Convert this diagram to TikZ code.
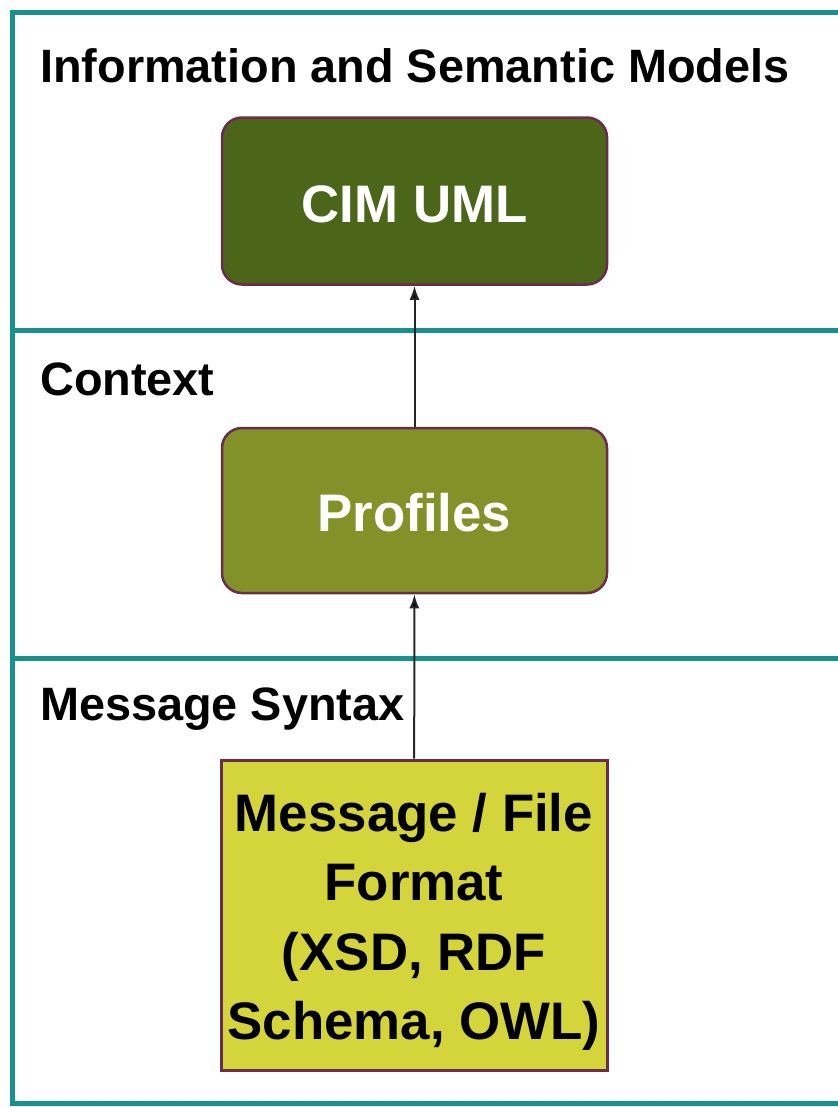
\documentclass[tikz,border=0pt]{standalone}
\usepackage{fontspec}
\setmainfont{Liberation Sans}
\usepackage{tikz}
\usetikzlibrary{positioning, arrows.meta}

\definecolor{frameteal}{HTML}{17908E}
\definecolor{cimgreen}{HTML}{4B6619}
\definecolor{profgreen}{HTML}{839228}
\definecolor{msgyellow}{HTML}{D3D53A}
\definecolor{boxedge}{HTML}{6A2C4C}

\begin{document}
\begin{tikzpicture}[x=1bp, y=-1bp]
                \useasboundingbox (0,0) rectangle (838,1107);
                % frame of the three layers
                \draw[frameteal, line width=5bp] (838,12) -- (12,12) -- (12,1103) -- (838,1103);
                \draw[frameteal, line width=5bp] (12,330) -- (838,330);
                \draw[frameteal, line width=5bp] (12,658) -- (838,658);

                \node[anchor=base west, inner sep=0pt, font=\bfseries\fontsize{47}{52}\selectfont] (lmodels) at (40,82) {Information and Semantic Models};
                \node[anchor=base west, inner sep=0pt, font=\bfseries\fontsize{47}{52}\selectfont] (lcontext) at (40,395) {Context};
                \node[anchor=base west, inner sep=0pt, font=\bfseries\fontsize{47}{52}\selectfont] (lsyntax) at (40,720) {Message Syntax};

                \node[rectangle, rounded corners=20bp, draw=boxedge, line width=2.5bp, fill=cimgreen, text=white, text height=44bp,
                      minimum width=385bp, minimum height=167bp, font=\bfseries\fontsize{53}{60}\selectfont] (cim) at (414.5,201) {CIM UML};
                \node[rectangle, rounded corners=20bp, draw=boxedge, line width=2.5bp, fill=profgreen, text=white, text height=43bp,
                      minimum width=385bp, minimum height=165bp, font=\bfseries\fontsize{53}{60}\selectfont] (prof) at (414.5,510.5) {Profiles};
                \node[rectangle, draw=boxedge, line width=3bp, fill=msgyellow, align=center, inner sep=0pt,
                      minimum width=386bp, minimum height=310bp, font=\bfseries\fontsize{53}{69.7}\selectfont] (msg) at (414,915) {\rule{0pt}{52bp}Message / File\\Format\\(XSD, RDF\\Schema, OWL)};

                \path[line width=2bp, draw=black!85, -{Latex[length=14bp, width=10bp]}]
                    (msg) edge (prof)
                    (prof) edge (cim)
                    ;
            \end{tikzpicture}
\end{document}
